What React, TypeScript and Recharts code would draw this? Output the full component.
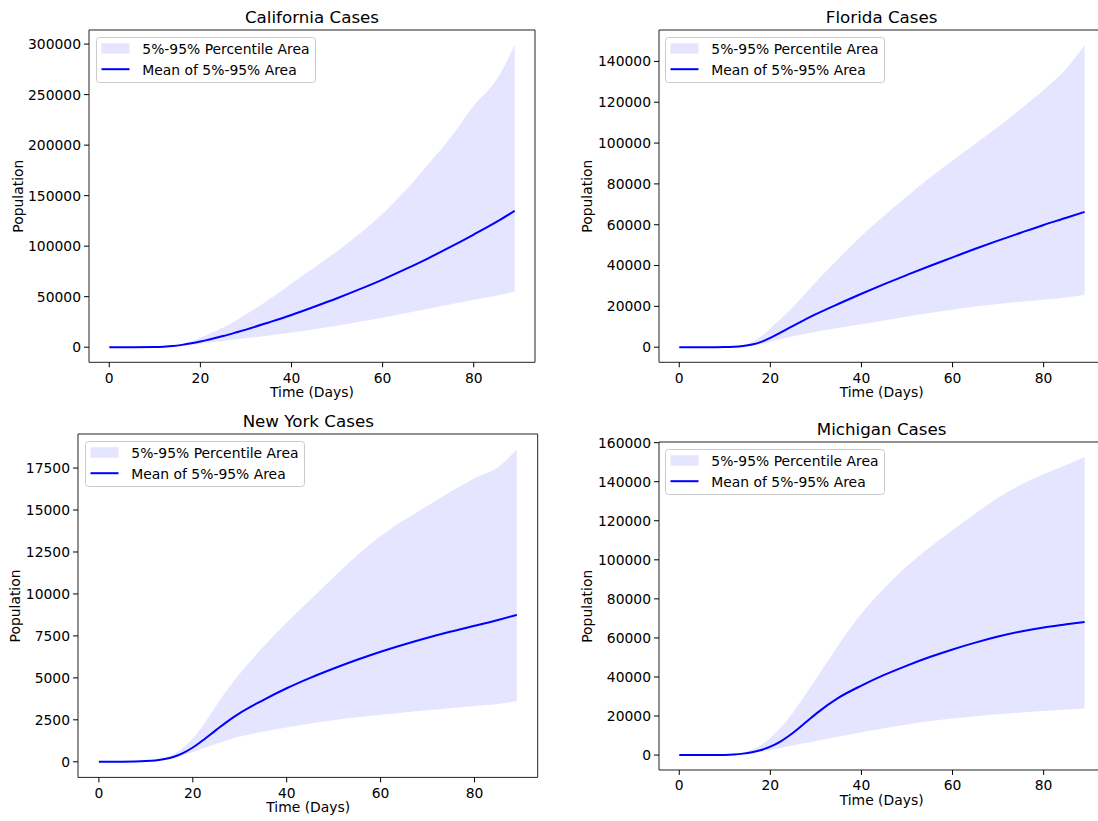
import React from 'react';
import { ComposedChart, Area, Line, XAxis, YAxis, ReferenceArea, Legend } from 'recharts';

// ---------- data ----------
const days = [0, 5, 10, 12, 14, 16, 18, 20, 22, 25, 28, 30, 35, 40, 45, 50, 55, 60, 65, 70, 75, 80, 85, 89];
const xTicks = [0, 20, 40, 60, 80];

const caMean = [0, 0, 100, 420, 1100, 2300, 3800, 5600, 7700, 11000, 14800, 17400, 24500, 31900, 40000, 48400, 57400, 66900, 77200, 88000, 99500, 111500, 124000, 135000];
const caHigh = [0, 0, 150, 600, 1600, 3300, 5800, 9500, 13200, 19500, 27000, 32500, 47000, 63000, 79000, 95000, 112500, 132000, 155000, 181000, 208000, 239000, 265000, 299000];
const caLow = [0, 0, 60, 250, 650, 1300, 2200, 3500, 4600, 6200, 7800, 8900, 11600, 14600, 17800, 21300, 25100, 29200, 33500, 38000, 42400, 46900, 51000, 55000];

const flMean = [0, 0, 50, 180, 550, 1300, 2600, 4600, 6900, 10500, 14000, 16200, 21300, 26200, 30900, 35400, 39800, 44000, 48200, 52200, 56100, 59900, 63400, 66300];
const flHigh = [0, 0, 80, 350, 1000, 2500, 5300, 9300, 13300, 19800, 27000, 32000, 43500, 54500, 64500, 74000, 83000, 91500, 99700, 108000, 116800, 126000, 136500, 148000];
const flLow = [0, 0, 30, 140, 380, 800, 1500, 2700, 3800, 5300, 6700, 7600, 9450, 11250, 13100, 15000, 16800, 18400, 19900, 21200, 22300, 23300, 24400, 25700];

const nyMean = [0, 5, 40, 80, 160, 300, 530, 850, 1250, 1900, 2530, 2900, 3680, 4380, 5000, 5560, 6080, 6560, 6990, 7390, 7760, 8100, 8450, 8750];
const nyHigh = [0, 5, 50, 110, 240, 480, 850, 1400, 2100, 3350, 4550, 5250, 6850, 8300, 9650, 11000, 12300, 13450, 14400, 15250, 16100, 16900, 17550, 18600];
const nyLow = [0, 5, 30, 60, 120, 220, 380, 580, 780, 1080, 1350, 1500, 1800, 2050, 2280, 2480, 2650, 2800, 2940, 3070, 3190, 3320, 3440, 3620];

const miMean = [0, 0, 100, 300, 750, 1500, 2600, 4300, 6650, 11450, 17200, 21100, 29400, 35600, 41050, 45850, 50200, 54100, 57600, 60700, 63300, 65350, 66950, 68200];
const miHigh = [0, 0, 150, 500, 1300, 2800, 5300, 8800, 13500, 22000, 32000, 39000, 56500, 72500, 85500, 96800, 106500, 115200, 123700, 131800, 138500, 143800, 148700, 152700];
const miLow = [0, 0, 60, 200, 500, 1000, 1700, 2600, 3500, 4900, 6300, 7200, 9500, 11700, 13800, 15700, 17300, 18700, 19900, 20900, 21800, 22600, 23300, 23900];

const caTicks = [0, 50000, 100000, 150000, 200000, 250000, 300000];
const flTicks = [0, 20000, 40000, 60000, 80000, 100000, 120000, 140000];
const nyTicks = [0, 2500, 5000, 7500, 10000, 12500, 15000, 17500];
const miTicks = [0, 20000, 40000, 60000, 80000, 100000, 120000, 140000, 160000];

const titles = ['California Cases', 'Florida Cases', 'New York Cases', 'Michigan Cases'];
const legendLabels = ['5%-95% Percentile Area', 'Mean of 5%-95% Area'];
const xLabel = 'Time (Days)';
const yLabel = 'Population';

// ---------- layout ----------
const FONT = 'DejaVu Sans';
const FS = 13.9;
const TITLE_FS = 16.7;
const xDomain: [number, number] = [-4.45, 93.45];

const panels = [
  { title: titles[0], mean: caMean, high: caHigh, low: caLow, ticks: caTicks, box: { left: 89, top: 30, right: 535, bottom: 362.3 }, yLabX: 22.7 },
  { title: titles[1], mean: flMean, high: flHigh, low: flLow, ticks: flTicks, box: { left: 658.7, top: 30, right: 1104.6, bottom: 362.3 }, yLabX: 591.7 },
  { title: titles[2], mean: nyMean, high: nyHigh, low: nyLow, ticks: nyTicks, box: { left: 78.4, top: 434.3, right: 538.1, bottom: 777.7 }, yLabX: 20.2 },
  { title: titles[3], mean: miMean, high: miHigh, low: miLow, ticks: miTicks, box: { left: 658.7, top: 442.3, right: 1104.6, bottom: 770.3 }, yLabX: 591.7 },
];

const L = 90;
const T = 30;
const R = 10;
const B = 45;

const tickStyle = { fontSize: FS, fill: '#000', fontFamily: FONT };

const LegendBox = () => (
  <svg width={220} height={46} style={{ display: 'block', overflow: 'visible' }}>
    <rect x={0.5} y={0.5} width={219} height={45} rx={3} ry={3} fill="#ffffff" fillOpacity={0.8} stroke="#cccccc" strokeWidth={1} />
    <rect x={5.5} y={6.2} width={28} height={10.5} fill="blue" fillOpacity={0.1} />
    <line x1={5.5} x2={33.5} y1={32.2} y2={32.2} stroke="blue" strokeWidth={2} />
    <text x={46.3} y={16.8} fontSize={FS} fontFamily={FONT} fill="#000">{legendLabels[0]}</text>
    <text x={46.3} y={37.5} fontSize={FS} fontFamily={FONT} fill="#000">{legendLabels[1]}</text>
  </svg>
);

function Panel({ cfg }: { cfg: typeof panels[number] }) {
  const bw = cfg.box.right - cfg.box.left;
  const bh = cfg.box.bottom - cfg.box.top;
  const data = days.map((d, i) => ({ day: d, band: [cfg.low[i], cfg.high[i]], mean: cfg.mean[i] }));
  const M = Math.max(...cfg.high);
  const yDom: [number, number] = [-0.05 * M, 1.05 * M];
  return (
    <div style={{ position: 'absolute', left: cfg.box.left - L, top: cfg.box.top - T }}>
      <ComposedChart width={L + bw + R} height={T + bh + B} data={data} margin={{ top: T, right: R, left: 0, bottom: 0 }}>
        <XAxis
          dataKey="day"
          type="number"
          domain={xDomain}
          ticks={xTicks}
          allowDataOverflow
          interval={0}
          height={B}
          axisLine={false}
          tickLine={{ stroke: '#000', strokeWidth: 1 }}
          tickSize={5}
          tickMargin={5.5}
          tick={tickStyle}
        />
        <YAxis
          type="number"
          domain={yDom}
          ticks={cfg.ticks}
          allowDataOverflow
          interval={0}
          width={L}
          axisLine={false}
          tickLine={{ stroke: '#000', strokeWidth: 1 }}
          tickSize={5}
          tickMargin={3}
          tick={tickStyle}
        />
        <Area
          type="monotone"
          dataKey="band"
          name={legendLabels[0]}
          fill="blue"
          fillOpacity={0.1}
          stroke="none"
          isAnimationActive={false}
          activeDot={false}
        />
        <Line
          type="monotone"
          dataKey="mean"
          name={legendLabels[1]}
          stroke="blue"
          strokeWidth={2}
          dot={false}
          activeDot={false}
          isAnimationActive={false}
        />
        <ReferenceArea
          x1={xDomain[0]}
          x2={xDomain[1]}
          y1={yDom[0]}
          y2={yDom[1]}
          fill="none"
          fillOpacity={0}
          stroke="#222"
          strokeWidth={1}
          ifOverflow="visible"
        />
        <Legend
          layout="vertical"
          align="center"
          verticalAlign="middle"
          width={220}
          height={46}
          wrapperStyle={{ left: L + 6.5, top: T + 6.5, width: 220, height: 46 }}
          content={() => <LegendBox />}
        />
      </ComposedChart>
    </div>
  );
}

export default function App() {
  return (
    <div style={{ position: 'absolute', left: 0, top: 0, width: 1098, height: 821, overflow: 'hidden', background: '#fff' }}>
      {panels.map((p) => (
        <Panel key={p.title} cfg={p} />
      ))}
      <svg width={1098} height={821} style={{ position: 'absolute', left: 0, top: 0, pointerEvents: 'none' }}>
        {panels.map((p) => {
          const cx = (p.box.left + p.box.right) / 2;
          const cy = (p.box.top + p.box.bottom) / 2;
          return (
            <g key={p.title}>
              <text x={cx} y={p.box.top - 7.5} textAnchor="middle" fontSize={TITLE_FS} fontFamily={FONT} fill="#000">{p.title}</text>
              <text x={cx} y={p.box.bottom + 34.4} textAnchor="middle" fontSize={FS} fontFamily={FONT} fill="#000">{xLabel}</text>
              <text x={p.yLabX} y={cy} textAnchor="middle" fontSize={FS} fontFamily={FONT} fill="#000" transform={`rotate(-90 ${p.yLabX} ${cy})`}>{yLabel}</text>
            </g>
          );
        })}
      </svg>
    </div>
  );
}
